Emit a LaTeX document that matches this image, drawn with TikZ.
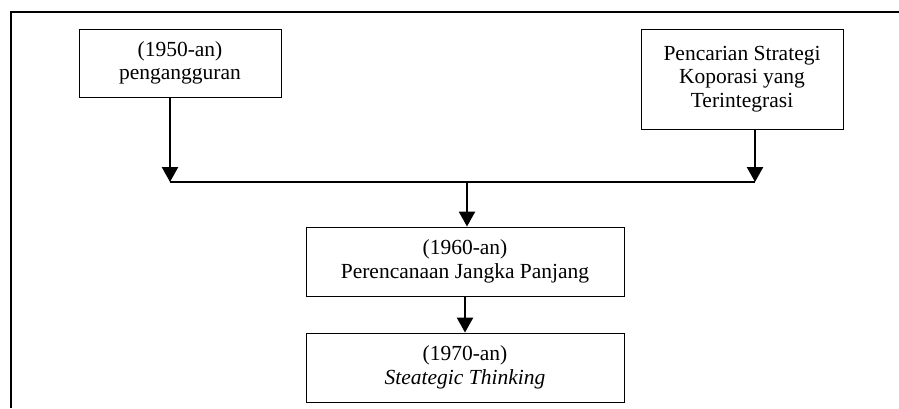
\documentclass[tikz,border=0pt]{standalone}
\usepackage{fontspec}
\setmainfont{Liberation Serif}
\usetikzlibrary{arrows.meta,positioning,calc}
\tikzset{
block/.style = {draw, fill=white, rectangle, line width=0.9pt, align=center, inner sep=2pt,
  minimum width=202pt, font=\fontsize{21.5}{23.5}\selectfont},
wide/.style = {block, minimum width=318pt, minimum height=69pt},
tmp/.style  = {coordinate},
link/.style = {-{Triangle[width=16pt,length=15pt]}, line width=2.4pt}
}
\begin{document}
\begin{tikzpicture}[x=1pt, y=-1pt, node distance=106pt]
					\useasboundingbox (0,0) rectangle (899,408);
					\draw[line width=1.3pt] (11,408) -- (11,12) -- (899,12);
					\node[block, minimum height=68pt] (era50) at (180,63) {(1950-an)\\pengangguran};
					\node[block, minimum height=100pt] (corp) at (742,79) {Pencarian Strategi\\Koporasi yang\\Terintegrasi};
					\node[wide] (era60) at (465,261.5) {(1960-an)\\Perencanaan Jangka Panjang};
					\node[wide, below of=era60] (era70) {(1970-an)\\\textit{Steategic Thinking}};
					\node[tmp] (joinL) at (170,182) {};
					\node[tmp] (joinR) at (755,182) {};
					\node[tmp] (joinM) at (467,182) {};
					\draw[link] (era50.south -| joinL) -- (joinL);
					\draw[link] (corp.south -| joinR) -- (joinR);
					\draw[line width=2.2pt] (joinL) -- (joinR);
					\draw[link] (joinM) -- (era60.north -| joinM);
					\draw[link] (era60) -- (era70);
				\end{tikzpicture}
\end{document}
